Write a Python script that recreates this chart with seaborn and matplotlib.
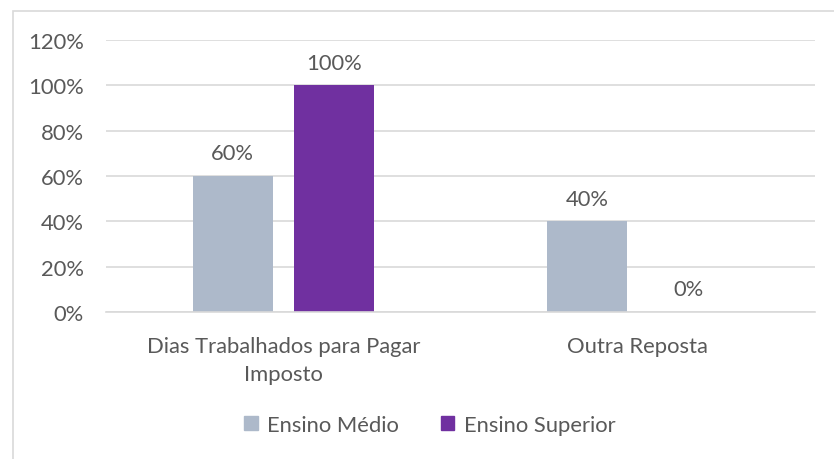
import matplotlib
matplotlib.use("Agg")
import matplotlib.pyplot as plt
from matplotlib.patches import Patch, Rectangle
import seaborn as sns
import pandas as pd

categories = ["Dias Trabalhados para Pagar\nImposto", "Outra Reposta"]
series = ["Ensino Médio", "Ensino Superior"]
ensino_medio = [0.60, 0.40]
ensino_superior = [1.00, 0.00]
yticks = [0, 0.2, 0.4, 0.6, 0.8, 1.0, 1.2]
ytick_labels = ["0%", "20%", "40%", "60%", "80%", "100%", "120%"]
colors = ["#ADB9CA", "#7030A0"]
text_color = "#595959"

df = pd.DataFrame({
    "categoria": categories * 2,
    "serie": [series[0]] * 2 + [series[1]] * 2,
    "valor": ensino_medio + ensino_superior,
})

sns.set_style("white")
plt.rcParams["font.family"] = ["Lato", "DejaVu Sans"]
FS = 15.8

fig = plt.figure(figsize=(8.34, 4.6), dpi=100)
W, H = 834, 460
ax = fig.add_axes([106 / W, 1 - 313 / H, 709 / W, 272 / H])

sns.barplot(data=df, x="categoria", y="valor", hue="serie", palette=colors,
            width=0.57, gap=0.21, ax=ax, legend=False, saturation=1,
            linewidth=0)

ax.set_ylim(0, 1.2)
ax.set_xlim(-0.5, 1.5)
ax.set_yticks(yticks)
ax.set_yticklabels(ytick_labels)
ax.yaxis.grid(True, color="#D9D9D9", linewidth=1.2)
ax.set_axisbelow(True)
for s in ["top", "right", "left"]:
    ax.spines[s].set_visible(False)
ax.spines["bottom"].set_color("#D9D9D9")
ax.spines["bottom"].set_linewidth(1.2)
ax.tick_params(axis="y", length=0, pad=16, labelsize=FS, labelcolor=text_color)
ax.tick_params(axis="x", length=0, pad=17, labelsize=FS, labelcolor=text_color)
for lbl in ax.get_xticklabels():
    lbl.set_linespacing(1.55)
ax.set_xlabel("")
ax.set_ylabel("")

for cont in ax.containers:
    ax.bar_label(cont, labels=[f"{v*100:.0f}%" for v in cont.datavalues],
                 padding=9, fontsize=FS, color=text_color)

handles = [Patch(facecolor=c, edgecolor=c) for c in colors]
fig.legend(handles, series, loc="center", bbox_to_anchor=(430 / W, 1 - 426 / H),
           ncol=2, frameon=False, fontsize=FS, labelcolor=text_color,
           handlelength=0.6, handleheight=0.6, handletextpad=0.45,
           columnspacing=1.9)

fig.patches.append(Rectangle((13 / W, -0.5), 2.0, 0.5 + 1 - 12 / H,
                             transform=fig.transFigure, fill=False,
                             edgecolor="#D9D9D9", linewidth=1.2, clip_on=False))

fig.savefig("out.png", dpi=100)
